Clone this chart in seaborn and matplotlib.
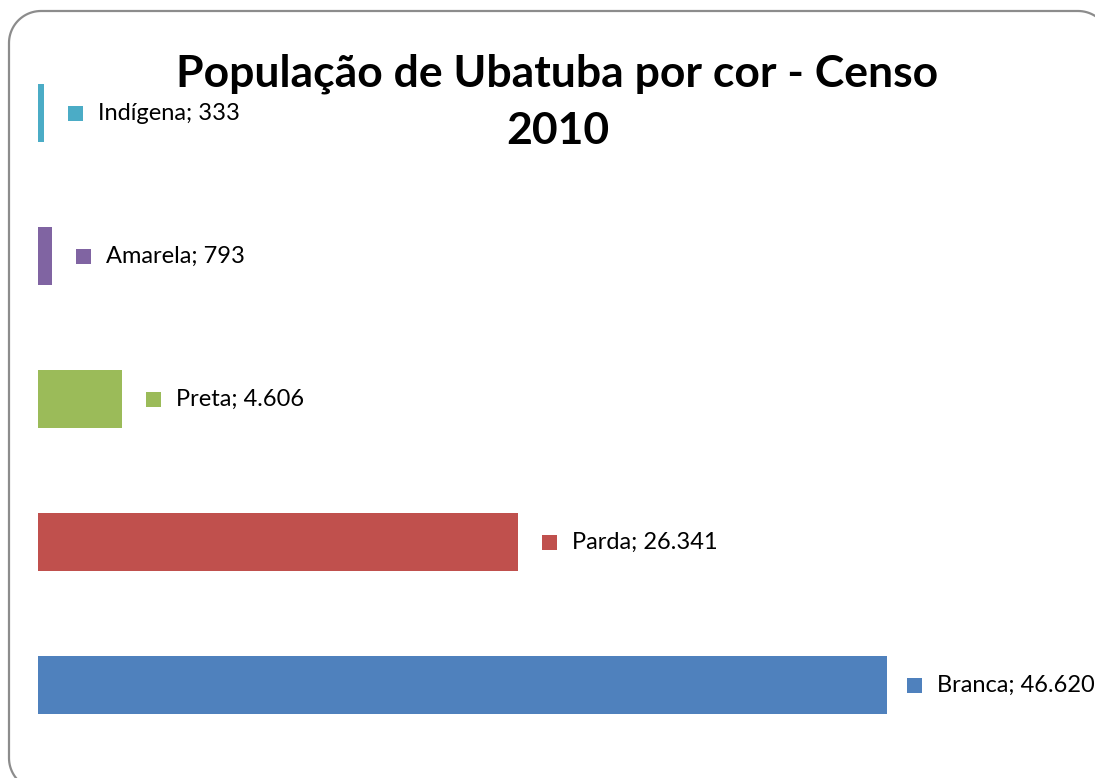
import matplotlib
matplotlib.use("Agg")
import matplotlib.pyplot as plt
import matplotlib.patches as mpatches
import matplotlib.transforms as mtransforms
import seaborn as sns
import pandas as pd
import numpy as np

# ---- data ----
categories = ["Indígena", "Amarela", "Preta", "Parda", "Branca"]
values = [333, 793, 4606, 26341, 46620]
value_labels = ["333", "793", "4.606", "26.341", "46.620"]
colors = ["#4BACC6", "#8064A2", "#9BBB59", "#C0504D", "#4F81BD"]
title_lines = ["População de Ubatuba por cor - Censo", "2010"]

sns.set_theme(style="white")
plt.rcParams["font.family"] = ["Lato", "DejaVu Sans"]

W, H, DPI = 1095, 778, 100
fig = plt.figure(figsize=(W / DPI, H / DPI), dpi=DPI)
fig.patch.set_facecolor("white")

# background axes in pixel units (y up) for the rounded frame
bg = fig.add_axes([0, 0, 1, 1], zorder=-1)
bg.set_xlim(0, W)
bg.set_ylim(0, H)
bg.axis("off")


def rounded_rect(x0, y0, x1, y1, r, n=24):
    pts = []
    corners = [(x1 - r, y1 - r, 0), (x0 + r, y1 - r, 90),
               (x0 + r, y0 + r, 180), (x1 - r, y0 + r, 270)]
    for cx, cy, a0 in corners:
        t = np.radians(np.linspace(a0, a0 + 90, n))
        pts.extend(zip(cx + r * np.cos(t), cy + r * np.sin(t)))
    return np.array(pts)


frame_pts = rounded_rect(9, H - 790, 1110, H - 11, 32)
bg.add_patch(mpatches.Polygon(frame_pts, closed=True, facecolor="none",
                              edgecolor="#8c8c8c", linewidth=1.6, clip_on=False))

# axes placement in pixels
left_px, right_px = 38, 1095
top_px, bottom_px = 41.5, 756.5
ax = fig.add_axes([left_px / W, (H - bottom_px) / H,
                   (right_px - left_px) / W, (bottom_px - top_px) / H])

df = pd.DataFrame({"cat": categories, "val": values})
palette = dict(zip(categories, colors))
sns.barplot(data=df, y="cat", x="val", hue="cat", palette=palette,
            order=categories, hue_order=categories, orient="h",
            width=0.4, legend=False, saturation=1, linewidth=0, ax=ax)

# x scale: longest bar ends at pixel 887
xmax = max(values) * (right_px - left_px) / (887 - left_px)
ax.set_xlim(0, xmax)
ax.set_ylim(len(categories) - 0.5, -0.5)
ax.axis("off")

# data labels with colored square key
for i, (cat, v, lab, c) in enumerate(zip(categories, values, value_labels, colors)):
    dx_m, dx_t = (27, 50) if i == len(categories) - 1 else (31, 54)
    off = mtransforms.ScaledTranslation(dx_m / DPI, 0, fig.dpi_scale_trans)
    ax.scatter([v], [i], marker="s", s=(15 * 72 / DPI) ** 2, color=c,
               transform=ax.transData + off, clip_on=False, linewidths=0, zorder=5)
    ax.annotate(f"{cat}; {lab}", xy=(v, i), xytext=(dx_t, 0),
                textcoords="offset pixels", ha="left", va="center",
                fontsize=17, color="black", annotation_clip=False)

# title (two lines)
fig.text(557 / W, 1 - 87 / H, title_lines[0], ha="center", va="baseline",
         fontsize=32, fontweight="bold", color="black")
fig.text(558 / W, 1 - 144 / H, title_lines[1], ha="center", va="baseline",
         fontsize=32, fontweight="bold", color="black")

fig.savefig("out.png", dpi=DPI)
